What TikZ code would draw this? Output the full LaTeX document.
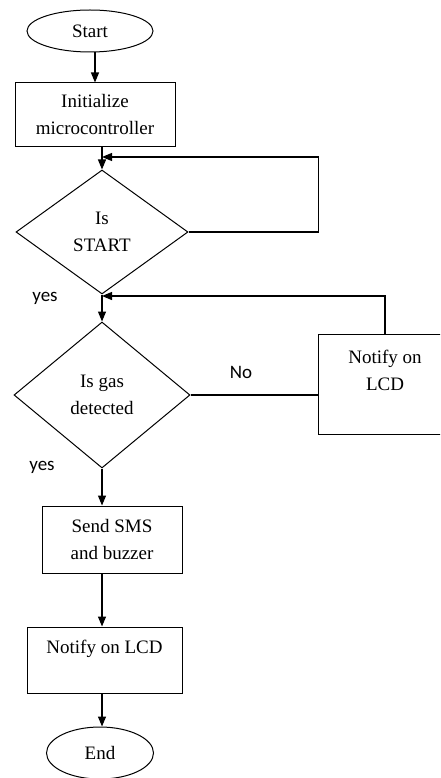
\documentclass[tikz,border=0pt]{standalone}
\usepackage{fontspec}
\setmainfont{Liberation Serif}
\newfontfamily\lblfont{Carlito}
\usetikzlibrary{shapes.geometric,arrows.meta}

\begin{document}
\begin{tikzpicture}[x=1pt, y=-1pt, line width=1.2pt,
  every node/.style={font=\fontsize{19}{27}\selectfont, align=center, inner sep=0pt},
  term/.style={draw, ellipse, line width=1pt},
  proc/.style={draw, rectangle, line width=1pt},
  decide/.style={draw, diamond, line width=1pt},
  lbl/.style={font=\lblfont\fontsize{19}{23}\selectfont},
  arr/.style={-{Triangle[length=10pt,width=8pt]}}]
\clip (0, 0) rectangle (440, 778);

\node[term, minimum width=126, minimum height=42] (start) at (90, 31) {Start};

\node[proc, minimum width=160, minimum height=64] (init) at (95, 115) {Initialize\\microcontroller};

\node[decide, minimum width=172, minimum height=124] (d1) at (102, 232) {Is\\START};

\node[decide, minimum width=176, minimum height=146] (d2) at (102, 395) {Is gas\\detected};

\node[proc, minimum width=134, minimum height=100] (lcd2) at (385, 384) {Notify on\\LCD\\\mbox{}};

\node[proc, minimum width=140, minimum height=67] (sms) at (112, 539.5) {Send SMS\\and buzzer};

\node[proc, minimum width=155, minimum height=66] (lcd1) at (104.5, 660) {Notify on LCD\\\mbox{}};

\node[term, minimum width=107, minimum height=52] (end) at (100, 753) {End};

\node[lbl] (yes1) at (45, 298) {yes};
\node[lbl] (yes2) at (42, 467) {yes};
\node[lbl] (no) at (241, 372) {No};

\coordinate (join1) at (102, 157);
\coordinate (join2) at (102, 296);

\draw[arr] (start.south -| init.north) -- (init.north);
\draw[arr] (init.south -| d1.north) -- (d1.north);
\draw[arr] (d1.east) -- ++(130, 0) |- (join1);
\draw[arr] (d1.south) -- (d2.north);
\draw (d2.east) -- (d2.east -| lcd2.west);
\draw[arr] (lcd2.north) |- (join2);
\draw[arr] (d2.south) -- (d2.south |- sms.north);
\draw[arr] (sms.south -| d2.south) -- (d2.south |- lcd1.north);
\draw[arr] (lcd1.south -| d2.south) -- (d2.south |- end.north);

\end{tikzpicture}
\end{document}
